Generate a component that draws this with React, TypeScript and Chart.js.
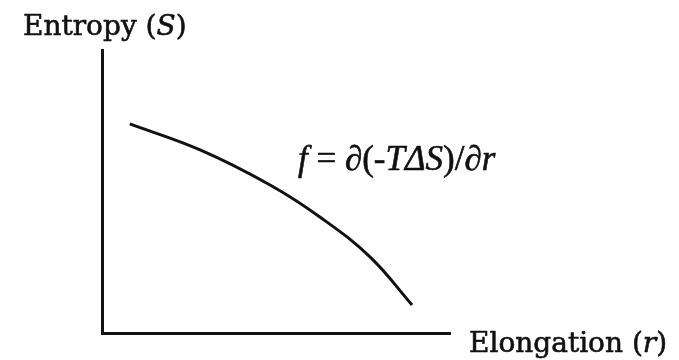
import React, { useEffect, useRef } from "react";
import { Chart, registerables } from "chart.js";

Chart.register(...registerables);

// Entropy vs. elongation: a falling, concave-down curve (arbitrary units)
const elongation = [0.8, 2.82, 4.83, 6.26, 7.7, 8.91];
const entropy = [7.39, 6.47, 5.23, 4.1, 2.69, 0.99];

const yAxisLabel = [
  { text: "Entropy (", italic: false },
  { text: "S", italic: true },
  { text: ")", italic: false },
];
const xAxisLabel = [
  { text: "Elongation (", italic: false },
  { text: "r", italic: true },
  { text: ")", italic: false },
];
const forceLabel = [
  { text: "f", italic: true },
  { text: " = ∂(-", italic: false },
  { text: "TΔS", italic: true },
  { text: ")/∂", italic: false },
  { text: "r", italic: true },
];
// where the force expression sits, in data units (left edge, baseline)
const forceLabelAt = { x: 5.63, y: 5.76 };

type Run = { text: string; italic: boolean };

function drawRuns(
  ctx: CanvasRenderingContext2D,
  runs: Run[],
  x: number,
  y: number,
  size: number,
  family: string,
  weight: number
) {
  let cx = x;
  ctx.textBaseline = "alphabetic";
  ctx.textAlign = "left";
  ctx.fillStyle = "#111";
  ctx.strokeStyle = "#111";
  ctx.lineWidth = weight;
  ctx.lineJoin = "round";
  for (const r of runs) {
    ctx.font = `${r.italic ? "italic " : ""}${size}px ${family}`;
    ctx.fillText(r.text, cx, y);
    if (weight > 0) ctx.strokeText(r.text, cx, y);
    cx += ctx.measureText(r.text).width;
  }
}

const schoolbook = "'DejaVu Serif', serif";
const roman = "'Liberation Serif', 'Times New Roman', serif";

const labelsPlugin = {
  id: "axisLabels",
  afterDraw(chart: any) {
    const { ctx, chartArea, scales } = chart;
    ctx.save();
    drawRuns(ctx, yAxisLabel, chartArea.left - 79, chartArea.top - 15, 28, schoolbook, 0.6);
    drawRuns(ctx, xAxisLabel, chartArea.right + 19, chartArea.bottom + 19, 28, schoolbook, 0.6);
    const fx = scales.x.getPixelForValue(forceLabelAt.x);
    const fy = scales.y.getPixelForValue(forceLabelAt.y);
    drawRuns(ctx, forceLabel, fx, fy, 35, roman, 0.6);
    ctx.restore();
  },
};

export default function App() {
  const ref = useRef<HTMLCanvasElement | null>(null);

  useEffect(() => {
    const canvas = ref.current!;
    const chart = new Chart(canvas, {
      type: "line",
      data: {
        datasets: [
          {
            data: elongation.map((x, i) => ({ x, y: entropy[i] })),
            borderColor: "#111",
            borderWidth: 3,
            pointRadius: 0,
            tension: 0.4,
            fill: false,
          },
        ],
      },
      options: {
        responsive: false,
        animation: false,
        layout: { padding: { left: 102, right: 229, top: 50, bottom: 27 } },
        plugins: { legend: { display: false }, tooltip: { enabled: false } },
        scales: {
          x: {
            type: "linear",
            min: 0,
            max: 10,
            grid: { display: false, drawTicks: false },
            ticks: { display: false },
            border: { display: true, color: "#111", width: 3 },
          },
          y: {
            type: "linear",
            min: 0,
            max: 10,
            grid: { display: false, drawTicks: false },
            ticks: { display: false },
            border: { display: true, color: "#111", width: 3 },
          },
        },
      },
      plugins: [labelsPlugin],
    });
    return () => chart.destroy();
  }, []);

  return (
    <div style={{ position: "fixed", left: 0, top: 0, width: 679, height: 360, background: "#fff" }}>
      <canvas ref={ref} width={679} height={360} />
    </div>
  );
}
